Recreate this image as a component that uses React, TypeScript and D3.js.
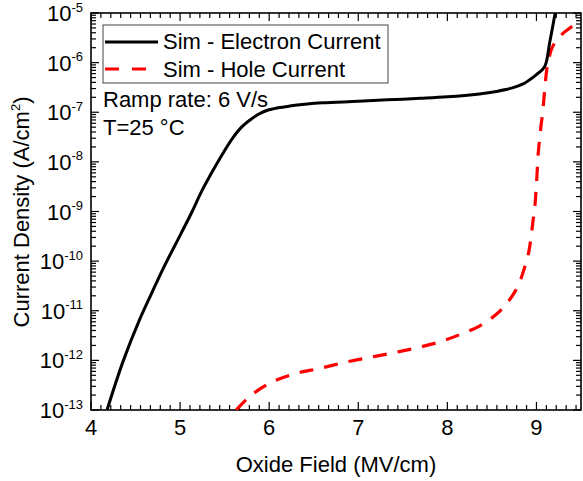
import React, { useEffect, useRef } from 'react';
import * as d3 from 'd3';

// oxide field (MV/cm) and log10 of current density (A/cm2)
const electronField = [4.18, 4.36, 4.55, 4.68, 4.81, 5.0, 5.13, 5.24, 5.37, 5.48, 5.59, 5.69, 5.79, 5.88, 5.98, 6.1, 6.23, 6.4, 6.6, 7.0, 7.32, 7.7, 8.0, 8.36, 8.55, 8.73, 8.85, 8.92, 9.0, 9.09, 9.15, 9.21];
const electronLogJ = [-13, -12.02, -11.16, -10.65, -10.15, -9.48, -9.02, -8.6, -8.17, -7.83, -7.52, -7.3, -7.15, -7.04, -6.96, -6.91, -6.875, -6.84, -6.81, -6.78, -6.75, -6.72, -6.69, -6.63, -6.58, -6.51, -6.43, -6.35, -6.24, -6.09, -5.58, -5.0];

const holeField = [5.63, 5.8, 6.04, 6.31, 6.57, 6.87, 7.13, 7.39, 7.65, 7.91, 8.14, 8.36, 8.55, 8.65, 8.75, 8.82, 8.87, 8.91, 8.935, 8.96, 8.98, 9.0, 9.02, 9.035, 9.05, 9.07, 9.085, 9.1, 9.115, 9.135, 9.18, 9.28, 9.37, 9.49];
const holeLogJ = [-13, -12.7, -12.43, -12.26, -12.16, -12.03, -11.94, -11.85, -11.75, -11.63, -11.48, -11.31, -11.07, -10.89, -10.64, -10.38, -10.11, -9.85, -9.58, -9.21, -8.94, -8.45, -7.83, -7.55, -7.29, -7.0, -6.7, -6.4, -6.15, -5.95, -5.68, -5.44, -5.31, -5.17];

const xTicks = [4, 5, 6, 7, 8, 9];
const yExponents = [-13, -12, -11, -10, -9, -8, -7, -6, -5];
const seriesNames = ['Sim - Electron Current', 'Sim - Hole Current'];
const notes = ['Ramp rate: 6 V/s', 'T=25 °C'];

const W = 583;
const H = 481;
const FONT = '"Liberation Sans", Arial, sans-serif';

function CurrentChart() {
  const ref = useRef<SVGSVGElement>(null);

  useEffect(() => {
    const svg = d3.select(ref.current);
    svg.selectAll('*').remove();

    const left = 91, right = 581, top = 13, bottom = 410;
    const x = d3.scaleLinear().domain([4, 9.5]).range([left, right]);
    const y = d3.scaleLog().domain([1e-13, 1e-5]).range([bottom, top]);

    svg.append('defs').append('clipPath').attr('id', 'plotclip')
      .append('rect').attr('x', left).attr('y', top).attr('width', right - left).attr('height', bottom - top);

    // ticks (all inward, on all four sides)
    const ticks = svg.append('g').attr('stroke', '#000').attr('stroke-width', 1.2);
    const minorX: number[] = [];
    for (let v = 4; v < 9.5; v++) {
      for (let k = 1; k < 9; k++) {
        const t = v + k / 9;
        if (t < 9.5) minorX.push(t);
      }
    }
    xTicks.forEach(t => {
      ticks.append('line').attr('x1', x(t)).attr('x2', x(t)).attr('y1', bottom).attr('y2', bottom - 8);
      ticks.append('line').attr('x1', x(t)).attr('x2', x(t)).attr('y1', top).attr('y2', top + 8);
    });
    minorX.forEach(t => {
      ticks.append('line').attr('x1', x(t)).attr('x2', x(t)).attr('y1', bottom).attr('y2', bottom - 5);
      ticks.append('line').attr('x1', x(t)).attr('x2', x(t)).attr('y1', top).attr('y2', top + 5);
    });
    yExponents.forEach(e => {
      const yy = y(Math.pow(10, e));
      ticks.append('line').attr('x1', left).attr('x2', left + 8).attr('y1', yy).attr('y2', yy);
      ticks.append('line').attr('x1', right).attr('x2', right - 8).attr('y1', yy).attr('y2', yy);
      if (e < -5) {
        for (let k = 2; k <= 9; k++) {
          const ym = y(k * Math.pow(10, e));
          ticks.append('line').attr('x1', left).attr('x2', left + 5).attr('y1', ym).attr('y2', ym);
          ticks.append('line').attr('x1', right).attr('x2', right - 5).attr('y1', ym).attr('y2', ym);
        }
      }
    });

    // frame
    svg.append('rect')
      .attr('x', left).attr('y', top).attr('width', right - left).attr('height', bottom - top)
      .attr('fill', 'none').attr('stroke', '#000').attr('stroke-width', 1.6);

    // tick labels
    xTicks.forEach(t => {
      svg.append('text')
        .attr('x', x(t)).attr('y', 435)
        .attr('text-anchor', 'middle')
        .attr('font-family', FONT).attr('font-size', 22)
        .text(String(t));
    });
    yExponents.forEach(e => {
      const txt = svg.append('text')
        .attr('x', 83).attr('y', y(Math.pow(10, e)) + 8)
        .attr('text-anchor', 'end')
        .attr('font-family', FONT).attr('font-size', 22);
      txt.append('tspan').text('10');
      txt.append('tspan').attr('dy', -9.5).attr('font-size', 13).text(String(e));
    });

    // axis titles
    svg.append('text')
      .attr('x', 336).attr('y', 472)
      .attr('text-anchor', 'middle')
      .attr('font-family', FONT).attr('font-size', 22)
      .text('Oxide Field (MV/cm)');
    const yTitle = svg.append('text')
      .attr('transform', 'translate(29,212) rotate(-90)')
      .attr('text-anchor', 'middle')
      .attr('font-family', FONT).attr('font-size', 22);
    yTitle.append('tspan').text('Current Density (A/cm');
    yTitle.append('tspan').attr('dy', -9).attr('font-size', 13).text('2');
    yTitle.append('tspan').attr('dy', 9).text(')');

    // curves
    const line = d3.line<[number, number]>()
      .x(d => x(d[0]))
      .y(d => y(Math.pow(10, d[1])))
      .curve(d3.curveCatmullRom.alpha(0.5));

    const electron = electronField.map((f, i) => [f, electronLogJ[i]] as [number, number]);
    const hole = holeField.map((f, i) => [f, holeLogJ[i]] as [number, number]);

    const plot = svg.append('g').attr('clip-path', 'url(#plotclip)');
    plot.append('path')
      .attr('d', line(hole))
      .attr('fill', 'none').attr('stroke', '#ff0000').attr('stroke-width', 3.2)
      .attr('stroke-dasharray', '14,11');
    plot.append('path')
      .attr('d', line(electron))
      .attr('fill', 'none').attr('stroke', '#000').attr('stroke-width', 3);

    // legend
    svg.append('rect')
      .attr('x', 103).attr('y', 25).attr('width', 285).attr('height', 58)
      .attr('fill', '#fff').attr('stroke', '#444').attr('stroke-width', 1);
    svg.append('line')
      .attr('x1', 105).attr('x2', 158).attr('y1', 42).attr('y2', 42)
      .attr('stroke', '#000').attr('stroke-width', 3);
    svg.append('line')
      .attr('x1', 105).attr('x2', 158).attr('y1', 69).attr('y2', 69)
      .attr('stroke', '#ff0000').attr('stroke-width', 3.2).attr('stroke-dasharray', '14,13');
    seriesNames.forEach((name, i) => {
      svg.append('text')
        .attr('x', 163).attr('y', 49 + i * 28)
        .attr('font-family', FONT).attr('font-size', 22)
        .text(name);
    });

    notes.forEach((n, i) => {
      svg.append('text')
        .attr('x', 103).attr('y', 107 + i * 28)
        .attr('font-family', FONT).attr('font-size', 22)
        .text(n);
    });
  }, []);

  return <svg ref={ref} width={W} height={H} style={{ position: 'absolute', left: 0, top: 0, background: '#fff' }} />;
}

export default function App() {
  return <CurrentChart />;
}
